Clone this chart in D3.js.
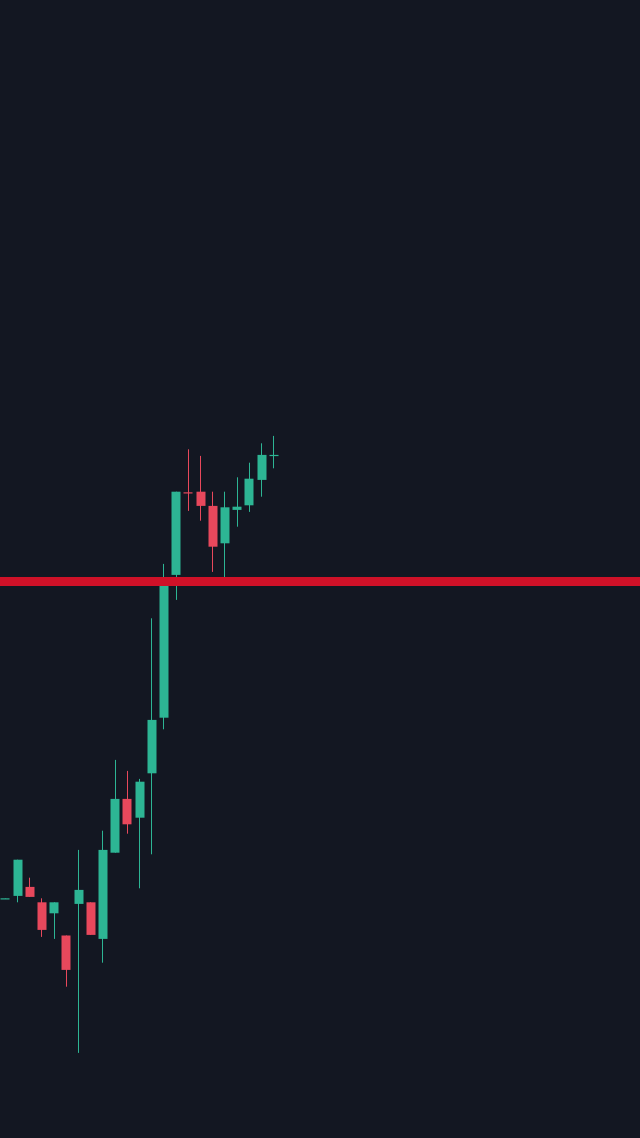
<!DOCTYPE html>
<html>
<head>
<meta charset="utf-8">
<script src="https://cdn.jsdelivr.net/npm/d3@7"></script>
<style>
  html, body { margin: 0; padding: 0; background: #131722; }
  svg { display: block; }
</style>
</head>
<body>
<svg id="chart" width="640" height="1138"></svg>
<script>
// Bar index categories
const bars = ["1","2","3","4","5","6","7","8","9","10","11","12","13","14","15","16","17","18","19","20","21","22","23"];
// OHLC series (price units)
const opens  = [84.16, 84.28, 84.73, 83.96, 83.41, 82.30, 83.88, 83.96, 82.13, 86.44, 89.13, 88.19, 90.41, 93.19, 100.33, 104.46, 104.49, 103.78, 101.91, 103.58, 103.81, 105.08, 106.30];
const highs  = [84.17, 86.09, 85.19, 84.16, 83.96, 82.30, 86.58, 83.96, 87.54, 91.08, 90.53, 90.13, 98.16, 100.88, 104.49, 106.61, 106.28, 104.49, 104.49, 105.21, 105.94, 106.91, 107.28];
const lows   = [84.15, 83.96, 84.23, 82.23, 82.13, 79.74, 76.43, 82.33, 80.94, 86.44, 87.39, 84.66, 86.36, 92.61, 99.08, 103.53, 103.04, 100.48, 100.13, 102.74, 103.48, 104.24, 105.66];
const closes = [84.16, 86.09, 84.23, 82.58, 83.96, 80.58, 84.58, 82.33, 86.58, 89.13, 87.86, 89.99, 93.08, 100.08, 104.49, 104.43, 103.78, 101.74, 103.71, 103.74, 105.14, 106.33, 106.33];
const levelPrice = 100;

const W = 640, H = 1138;
const upColor = "#2db594", downColor = "#e8485c", levelColor = "#cf1128";

const data = bars.map((b, i) => ({ b, o: opens[i], h: highs[i], l: lows[i], c: closes[i] }));

const svg = d3.select("#chart");
svg.append("rect").attr("width", W).attr("height", H).attr("fill", "#131722");

const x = d3.scaleBand().domain(bars).range([-1.2, -1.2 + 12.2 * bars.length])
  .paddingInner(0.25).paddingOuter(0.125);
const y = d3.scaleLinear().domain([72.175, 129.075]).range([H, 0]);

const g = svg.append("g");
const candle = g.selectAll("g.candle").data(data).join("g").attr("class", "candle");

candle.append("line")
  .attr("x1", d => Math.round(x(d.b) + x.bandwidth() / 2) + 0.5)
  .attr("x2", d => Math.round(x(d.b) + x.bandwidth() / 2) + 0.5)
  .attr("y1", d => y(d.h))
  .attr("y2", d => y(d.l))
  .attr("stroke", d => d.c >= d.o ? upColor : downColor)
  .attr("stroke-width", 1);

candle.append("rect")
  .attr("x", d => Math.round(x(d.b)) + 0.5)
  .attr("width", Math.round(x.bandwidth()))
  .attr("y", d => y(Math.max(d.o, d.c)))
  .attr("height", d => Math.max(1.2, Math.abs(y(d.o) - y(d.c))))
  .attr("fill", d => d.c >= d.o ? upColor : downColor);

svg.append("line")
  .attr("x1", 0).attr("x2", W)
  .attr("y1", y(levelPrice)).attr("y2", y(levelPrice))
  .attr("stroke", levelColor)
  .attr("stroke-width", 9);
</script>
</body>
</html>
